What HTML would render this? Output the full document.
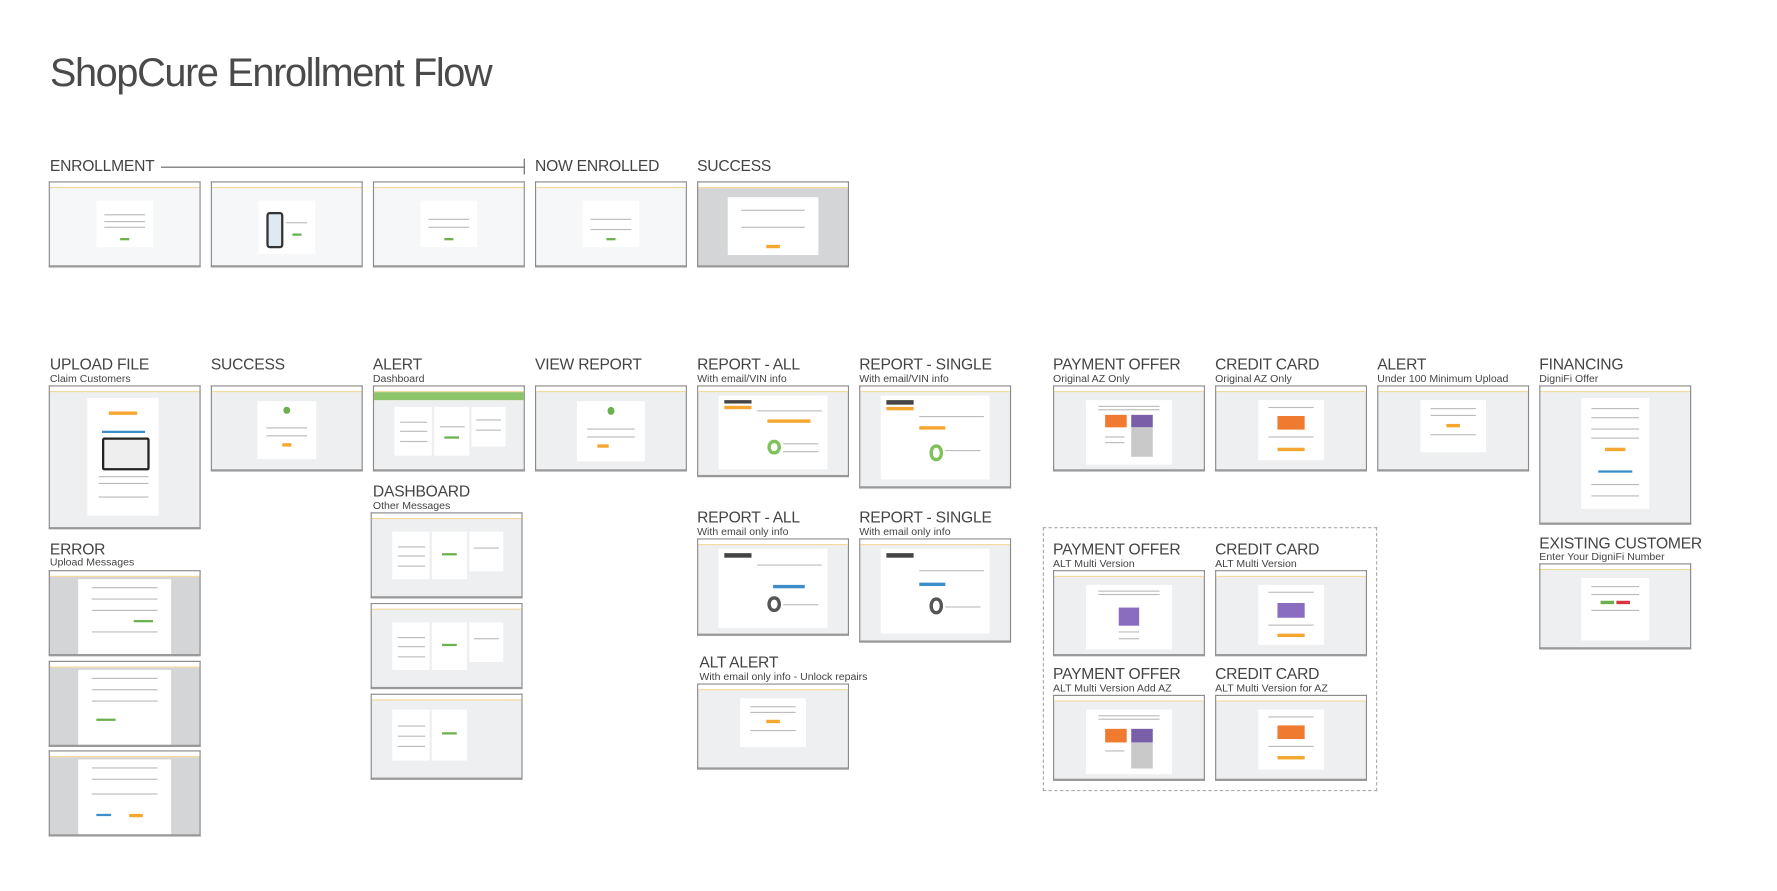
<!DOCTYPE html>
<html><head><meta charset="utf-8"><style>
html,body{margin:0;padding:0;background:#fff;width:1777px;height:890px;overflow:hidden}
#w{position:absolute;left:0;top:0;width:1570px;height:786px;transform:scale(1.1335);transform-origin:0 0;font-family:"Liberation Sans",sans-serif;color:#444}
.t{position:absolute;left:44px;top:45px;font-size:35px;letter-spacing:-1.2px;color:#4a4a4a}
.l{position:absolute;font-size:13.8px;letter-spacing:-0.2px;color:#444;white-space:nowrap;line-height:1}
.s{position:absolute;font-size:9.3px;color:#444;white-space:nowrap;line-height:1}
.f{position:absolute;width:134px;border:1px solid #8a8a8a;border-bottom:2px solid #999;background:#eeeff0;overflow:hidden;box-sizing:border-box}
.f:before{content:"";position:absolute;left:0;top:0;right:0;height:4px;background:#fff;border-bottom:1px solid #f3d79a}
.f.g{background:#d4d5d6}
.c{position:absolute;background:#fff;left:32%;width:36%;top:16%;height:72%}
.c i{position:absolute;left:15%;right:15%;height:1px;background:#bbb}
.b{position:absolute;height:2px;background:#6ab04c;left:42%;width:16%}
.o{position:absolute;height:3px;background:#f6a732}
</style></head><body><div id="w">
<div class="t">ShopCure Enrollment Flow</div>

<div class="l" style="left:44px;top:140px">ENROLLMENT</div>
<div style="position:absolute;left:142px;top:147px;width:321px;height:1px;background:#666"></div>
<div style="position:absolute;left:462px;top:140px;width:1px;height:14px;background:#666"></div>
<div class="l" style="left:472px;top:140px">NOW ENROLLED</div>
<div class="l" style="left:615px;top:140px">SUCCESS</div>

<div class="f" style="left:43px;top:160px;height:76px;background:#f6f7f8"><div class="c" style="left:31%;width:38%;top:22%;height:56%"><i style="top:30%"></i><i style="top:45%"></i><i style="top:55%"></i><div class="b" style="top:80%"></div></div></div>
<div class="f" style="left:186px;top:160px;height:76px;background:#f6f7f8"><div class="c" style="left:31%;width:38%;top:22%;height:65%"><div style="position:absolute;left:15%;top:20%;width:22%;height:60%;border:2px solid #333;border-radius:3px;background:#dfe9f2"></div><i style="left:48%;top:40%"></i><div class="b" style="top:62%;left:60%"></div></div></div>
<div class="f" style="left:329px;top:160px;height:76px;background:#f6f7f8"><div class="c" style="left:31%;width:38%;top:22%;height:56%"><i style="top:40%"></i><i style="top:55%"></i><div class="b" style="top:80%"></div></div></div>
<div class="f" style="left:472px;top:160px;height:76px;background:#f6f7f8"><div class="c" style="left:31%;width:38%;top:22%;height:56%"><i style="top:40%"></i><i style="top:60%"></i><div class="b" style="top:80%"></div></div></div>
<div class="f g" style="left:615px;top:160px;height:76px"><div class="c" style="left:20%;width:60%;top:18%;height:70%"><i style="top:22%"></i><i style="top:50%"></i><div class="o" style="top:82%;left:42%;width:16%"></div></div></div>

<div class="l" style="left:44px;top:315px">UPLOAD FILE</div><div class="s" style="left:44px;top:330px">Claim Customers</div>
<div class="l" style="left:186px;top:315px">SUCCESS</div>
<div class="l" style="left:329px;top:315px">ALERT</div><div class="s" style="left:329px;top:330px">Dashboard</div>
<div class="l" style="left:472px;top:315px">VIEW REPORT</div>
<div class="l" style="left:615px;top:315px">REPORT - ALL</div><div class="s" style="left:615px;top:330px">With email/VIN info</div>
<div class="l" style="left:758px;top:315px">REPORT - SINGLE</div><div class="s" style="left:758px;top:330px">With email/VIN info</div>
<div class="l" style="left:929px;top:315px">PAYMENT OFFER</div><div class="s" style="left:929px;top:330px">Original AZ Only</div>
<div class="l" style="left:1072px;top:315px">CREDIT CARD</div><div class="s" style="left:1072px;top:330px">Original AZ Only</div>
<div class="l" style="left:1215px;top:315px">ALERT</div><div class="s" style="left:1215px;top:330px">Under 100 Minimum Upload</div>
<div class="l" style="left:1358px;top:315px">FINANCING</div><div class="s" style="left:1358px;top:330px">DigniFi Offer</div>

<div class="f" style="left:43px;top:340px;height:127px"><div class="c" style="left:25%;width:48%;top:8%;height:84%"><div class="o" style="top:12%;left:30%;width:40%"></div><div style="position:absolute;left:20%;right:20%;top:28%;height:2px;background:#3b8ec9"></div><div style="position:absolute;left:20%;width:60%;top:34%;height:24%;border:2px solid #222;border-radius:2px;background:#eee"></div><i style="top:66%"></i><i style="top:72%"></i><i style="top:84%"></i></div></div>
<div class="f" style="left:186px;top:340px;height:76px"><div class="c" style="left:30%;width:40%;top:18%;height:70%"><div style="position:absolute;left:45%;top:10%;width:10%;height:12%;border-radius:50%;background:#6ab04c"></div><i style="top:45%"></i><i style="top:58%"></i><div class="o" style="top:72%;left:42%;width:16%"></div></div></div>
<div class="f" style="left:329px;top:340px;height:76px"><div style="position:absolute;left:0;right:0;top:5px;height:7px;background:#8cc46a"></div><div class="c" style="left:14%;width:25%;top:25%;height:58%"><i style="top:30%"></i><i style="top:50%"></i><i style="top:70%"></i></div><div class="c" style="left:40%;width:24%;top:25%;height:58%"><i style="top:40%"></i><div class="b" style="top:60%;left:30%;width:40%"></div></div><div class="c" style="left:65%;width:23%;top:25%;height:48%"><i style="top:30%"></i><i style="top:55%"></i></div></div>
<div class="f" style="left:472px;top:340px;height:76px"><div class="c" style="left:27%;width:46%;top:18%;height:72%"><div style="position:absolute;left:45%;top:10%;width:10%;height:12%;border-radius:50%;background:#6ab04c"></div><i style="top:45%"></i><i style="top:58%"></i><div class="o" style="top:72%;left:30%;width:16%"></div></div></div>
<div class="f" style="left:615px;top:340px;height:81px"><div class="c" style="left:14%;width:72%;top:10%;height:84%"><div style="position:absolute;left:5%;width:25%;top:6%;height:5%;background:#444"></div><div style="position:absolute;left:5%;width:25%;top:14%;height:4%;background:#f6a732"></div><i style="left:35%;right:5%;top:20%"></i><div class="o" style="top:33%;left:45%;width:40%"></div><div style="position:absolute;left:45%;top:60%;width:12%;height:20%;border:3px solid #7fc25c;border-radius:50%;box-sizing:border-box"></div><i style="left:60%;right:8%;top:65%"></i><i style="left:60%;right:8%;top:75%"></i></div></div>
<div class="f" style="left:758px;top:340px;height:91px"><div class="c" style="left:14%;width:72%;top:9%;height:84%"><div style="position:absolute;left:5%;width:25%;top:6%;height:5%;background:#444"></div><div style="position:absolute;left:5%;width:25%;top:14%;height:4%;background:#f6a732"></div><i style="left:35%;right:5%;top:25%"></i><div class="o" style="top:36%;left:35%;width:25%"></div><div style="position:absolute;left:45%;top:58%;width:12%;height:20%;border:3px solid #7fc25c;border-radius:50%;box-sizing:border-box"></div><i style="left:60%;right:8%;top:65%"></i></div></div>
<div class="f" style="left:929px;top:340px;height:76px"><div class="c" style="left:21%;width:58%;top:17%;height:78%"><i style="top:8%"></i><i style="top:14%"></i><div style="position:absolute;left:22%;width:26%;top:22%;height:20%;background:#f07a2f"></div><div style="position:absolute;left:52%;width:26%;top:22%;height:20%;background:#7a5fa8"></div><div style="position:absolute;left:52%;width:26%;top:42%;height:45%;background:#c9c9c9"></div><i style="top:55%;left:22%;right:55%"></i><i style="top:65%;left:22%;right:55%"></i></div></div>
<div class="f" style="left:1072px;top:340px;height:76px"><div class="c" style="left:28%;width:44%;top:17%;height:72%"><i style="top:10%"></i><div style="position:absolute;left:30%;width:40%;top:25%;height:24%;background:#f07a2f"></div><i style="top:60%"></i><div class="o" style="top:80%;left:30%;width:40%"></div></div></div>
<div class="f" style="left:1215px;top:340px;height:76px"><div class="c" style="left:28%;width:44%;top:17%;height:62%"><i style="top:15%"></i><i style="top:28%"></i><div class="o" style="top:45%;left:40%;width:20%"></div><i style="top:65%"></i></div></div>
<div class="f" style="left:1358px;top:340px;height:123px"><div class="c" style="left:27%;width:46%;top:8%;height:82%"><i style="top:10%"></i><i style="top:18%"></i><i style="top:28%"></i><i style="top:36%"></i><div class="o" style="top:45%;left:35%;width:30%"></div><div style="position:absolute;left:25%;right:25%;top:65%;height:2px;background:#3b8ec9"></div><i style="top:78%"></i><i style="top:88%"></i></div></div>

<div class="l" style="left:1358px;top:473px">EXISTING CUSTOMER</div><div class="s" style="left:1358px;top:487px">Enter Your DigniFi Number</div>
<div class="f" style="left:1358px;top:497px;height:76px"><div class="c" style="left:27%;width:46%;top:17%;height:75%"><i style="top:12%"></i><i style="top:25%"></i><div style="position:absolute;left:28%;width:20%;top:36%;height:3px;background:#6ab04c"></div><div style="position:absolute;left:52%;width:20%;top:36%;height:3px;background:#d9363e"></div><i style="top:50%"></i></div></div>

<div class="l" style="left:44px;top:478px">ERROR</div><div class="s" style="left:44px;top:492px">Upload Messages</div>
<div class="f g" style="left:43px;top:503px;height:76px"><div class="c" style="left:19%;width:62%;top:10%;height:90%"><i style="top:10%"></i><i style="top:25%"></i><i style="top:40%"></i><div class="b" style="top:55%;left:60%;width:20%"></div><i style="top:70%"></i></div></div>
<div class="f g" style="left:43px;top:583px;height:76px"><div class="c" style="left:19%;width:62%;top:10%;height:90%"><i style="top:10%"></i><i style="top:25%"></i><i style="top:40%"></i><div class="b" style="top:65%;left:20%;width:20%"></div></div></div>
<div class="f g" style="left:43px;top:662px;height:76px"><div class="c" style="left:19%;width:62%;top:10%;height:90%"><i style="top:10%"></i><i style="top:25%"></i><i style="top:45%"></i><div style="position:absolute;left:20%;width:15%;top:72%;height:2px;background:#3b8ec9"></div><div class="o" style="top:72%;left:55%;width:15%"></div></div></div>

<div class="l" style="left:329px;top:427px">DASHBOARD</div><div class="s" style="left:329px;top:442px">Other Messages</div>
<div class="f" style="left:327px;top:452px;height:76px"><div class="c" style="left:14%;width:25%;top:22%;height:58%"><i style="top:30%"></i><i style="top:50%"></i><i style="top:70%"></i></div><div class="c" style="left:40%;width:24%;top:22%;height:58%"><div class="b" style="top:45%;left:30%;width:40%"></div></div><div class="c" style="left:65%;width:23%;top:22%;height:48%"><i style="top:40%"></i></div></div>
<div class="f" style="left:327px;top:532px;height:76px"><div class="c" style="left:14%;width:25%;top:22%;height:58%"><i style="top:30%"></i><i style="top:50%"></i><i style="top:70%"></i></div><div class="c" style="left:40%;width:24%;top:22%;height:58%"><div class="b" style="top:45%;left:30%;width:40%"></div></div><div class="c" style="left:65%;width:23%;top:22%;height:48%"><i style="top:40%"></i></div></div>
<div class="f" style="left:327px;top:612px;height:76px"><div class="c" style="left:14%;width:25%;top:18%;height:62%"><i style="top:30%"></i><i style="top:50%"></i><i style="top:70%"></i></div><div class="c" style="left:40%;width:24%;top:18%;height:62%"><div class="b" style="top:45%;left:30%;width:40%"></div></div></div>

<div class="l" style="left:615px;top:450px">REPORT - ALL</div><div class="s" style="left:615px;top:465px">With email only info</div>
<div class="l" style="left:758px;top:450px">REPORT - SINGLE</div><div class="s" style="left:758px;top:465px">With email only info</div>
<div class="f" style="left:615px;top:475px;height:86px"><div class="c" style="left:14%;width:72%;top:10%;height:84%"><div style="position:absolute;left:5%;width:25%;top:6%;height:5%;background:#444"></div><i style="left:35%;right:5%;top:20%"></i><div style="position:absolute;left:50%;width:30%;top:45%;height:3px;background:#3b8ec9"></div><div style="position:absolute;left:45%;top:60%;width:12%;height:20%;border:3px solid #555;border-radius:50%;box-sizing:border-box"></div><i style="left:60%;right:8%;top:70%"></i></div></div>
<div class="f" style="left:758px;top:475px;height:92px"><div class="c" style="left:14%;width:72%;top:9%;height:84%"><div style="position:absolute;left:5%;width:25%;top:6%;height:5%;background:#444"></div><i style="left:35%;right:5%;top:25%"></i><div style="position:absolute;left:35%;width:25%;top:40%;height:3px;background:#3b8ec9"></div><div style="position:absolute;left:45%;top:58%;width:12%;height:20%;border:3px solid #555;border-radius:50%;box-sizing:border-box"></div><i style="left:60%;right:8%;top:68%"></i></div></div>

<div class="l" style="left:617px;top:578px">ALT ALERT</div><div class="s" style="left:617px;top:593px">With email only info - Unlock repairs</div>
<div class="f" style="left:615px;top:603px;height:76px"><div class="c" style="left:28%;width:44%;top:17%;height:58%"><i style="top:15%"></i><i style="top:28%"></i><div class="o" style="top:45%;left:40%;width:20%"></div><i style="top:65%"></i></div></div>

<div style="position:absolute;left:920px;top:465px;width:295px;height:233px;border:1px dashed #aaa;box-sizing:border-box"></div>
<div class="l" style="left:929px;top:478px">PAYMENT OFFER</div><div class="s" style="left:929px;top:493px">ALT Multi Version</div>
<div class="l" style="left:1072px;top:478px">CREDIT CARD</div><div class="s" style="left:1072px;top:493px">ALT Multi Version</div>
<div class="f" style="left:929px;top:503px;height:76px"><div class="c" style="left:21%;width:58%;top:17%;height:78%"><i style="top:8%"></i><i style="top:14%"></i><div style="position:absolute;left:38%;width:24%;top:35%;height:28%;background:#8a6cc0"></div><i style="top:72%;left:38%;right:38%"></i><i style="top:82%;left:38%;right:38%"></i></div></div>
<div class="f" style="left:1072px;top:503px;height:76px"><div class="c" style="left:28%;width:44%;top:17%;height:72%"><i style="top:10%"></i><div style="position:absolute;left:30%;width:40%;top:30%;height:24%;background:#8a6cc0"></div><i style="top:66%"></i><div class="o" style="top:82%;left:30%;width:40%"></div></div></div>
<div class="l" style="left:929px;top:588px">PAYMENT OFFER</div><div class="s" style="left:929px;top:603px">ALT Multi Version Add AZ</div>
<div class="l" style="left:1072px;top:588px">CREDIT CARD</div><div class="s" style="left:1072px;top:603px">ALT Multi Version for AZ</div>
<div class="f" style="left:929px;top:613px;height:76px"><div class="c" style="left:21%;width:58%;top:17%;height:78%"><i style="top:8%"></i><i style="top:14%"></i><div style="position:absolute;left:22%;width:26%;top:30%;height:20%;background:#f07a2f"></div><div style="position:absolute;left:52%;width:26%;top:30%;height:20%;background:#7a5fa8"></div><div style="position:absolute;left:52%;width:26%;top:50%;height:40%;background:#c9c9c9"></div><i style="top:62%;left:22%;right:55%"></i></div></div>
<div class="f" style="left:1072px;top:613px;height:76px"><div class="c" style="left:28%;width:44%;top:17%;height:72%"><i style="top:10%"></i><div style="position:absolute;left:30%;width:40%;top:25%;height:24%;background:#f07a2f"></div><i style="top:60%"></i><div class="o" style="top:78%;left:30%;width:40%"></div></div></div>
</div></body></html>
